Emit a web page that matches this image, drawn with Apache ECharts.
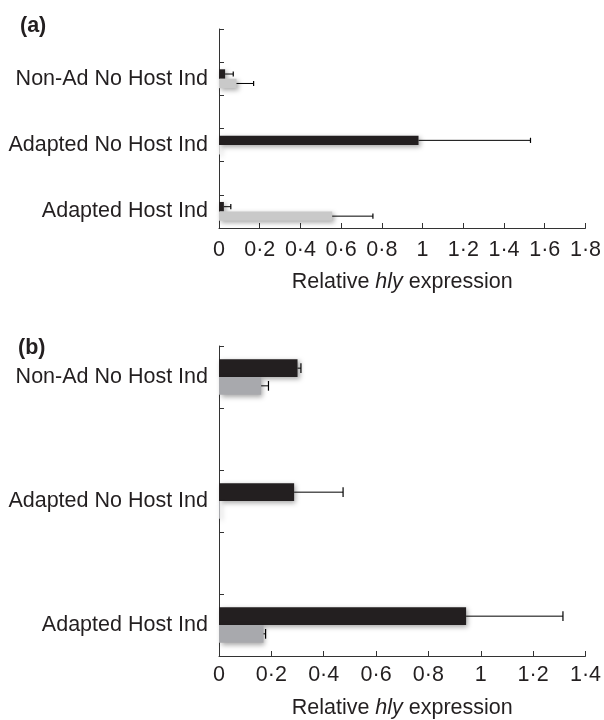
<!DOCTYPE html>
<html>
<head>
<meta charset="utf-8">
<script src="https://cdn.jsdelivr.net/npm/echarts@6/dist/echarts.min.js"></script>
<style>
html,body{margin:0;padding:0;background:#fff;}
#chart{width:604px;height:720px;}
</style>
</head>
<body>
<div id="chart"></div>
<script>
// ---- Data ----
const categories = ['Non-Ad No Host Ind', 'Adapted No Host Ind', 'Adapted Host Ind'];
// Panel (a)
const aBlack = [0.03, 0.98, 0.024];
const aBlackErr = [0.04, 0.55, 0.034];
const aGray = [0.086, 0.005, 0.556];
const aGrayErr = [0.084, 0, 0.2];
const aTicks = [0, 0.2, 0.4, 0.6, 0.8, 1, 1.2, 1.4, 1.6, 1.8];
// Panel (b)
const bBlack = [0.30, 0.287, 0.944];
const bBlackErr = [0.013, 0.187, 0.37];
const bGray = [0.161, 0.004, 0.17];
const bGrayErr = [0.028, 0, 0.008];
const bTicks = [0, 0.2, 0.4, 0.6, 0.8, 1, 1.2, 1.4];

// ---- Layout helpers ----
const aSlots = [-1, 0, -1, 1, -1, 2];
const bSlots = [0, -1, 1, -1, 2];
function axisCats(slots) { return slots.map(s => s < 0 ? '' : categories[s]); }
function pad(slots, arr) { return slots.map(s => s < 0 ? null : arr[s]); }
function errData(slots, vals, errs) {
  const out = [];
  slots.forEach((s, i) => { if (s >= 0 && errs[s] > 0) out.push([i, vals[s], vals[s] + errs[s]]); });
  return out;
}

const FONT = "'Liberation Sans', Arial, Helvetica, sans-serif";
const FS = 21.5;
const TXT = '#231f20';
const BLACK = '#231f20';
const GAP = 0.43;

function makeErr(gridIdx, slots, vals, errs, side) {
  return {
    type: 'custom',
    xAxisIndex: gridIdx, yAxisIndex: gridIdx,
    data: errData(slots, vals, errs),
    encode: { x: [1, 2], y: 0 },
    z: 5,
    silent: true,
    renderItem: function (params, api) {
      const band = api.size([0, 1])[1];
      const bw = band * (1 - GAP) / 2;
      const p0 = api.coord([api.value(1), api.value(0)]);
      const p1 = api.coord([api.value(2), api.value(0)]);
      const y = p0[1] + side * bw / 2;
      const cap = Math.max(5, bw * 0.55);
      return {
        type: 'group',
        children: [
          { type: 'line', shape: { x1: p0[0], y1: y, x2: p1[0], y2: y }, style: { stroke: '#000', lineWidth: 1 } },
          { type: 'line', shape: { x1: p1[0], y1: y - cap / 2, x2: p1[0], y2: y + cap / 2 }, style: { stroke: '#000', lineWidth: 1.2 } }
        ]
      };
    }
  };
}

function barSeries(gridIdx, data, color) {
  return {
    type: 'bar',
    xAxisIndex: gridIdx, yAxisIndex: gridIdx,
    data: data,
    barGap: '0%',
    barCategoryGap: (GAP * 100) + '%',
    itemStyle: {
      color: color,
      shadowBlur: 5, shadowOffsetX: 2, shadowOffsetY: 2, shadowColor: 'rgba(0,0,0,0.35)'
    },
    silent: true
  };
}

function xAxis(gridIdx, ticks, margin, nameGap) {
  return {
    type: 'value', gridIndex: gridIdx,
    min: ticks[0], max: ticks[ticks.length - 1], interval: 0.2,
    axisLine: { show: true, lineStyle: { color: '#333', width: 1 } },
    axisTick: { show: true, inside: true, length: 5, lineStyle: { color: '#333' } },
    splitLine: { show: false },
    axisLabel: {
      margin: margin, color: TXT, fontSize: FS, fontFamily: FONT,
      formatter: v => String(Math.round(v * 10) / 10).replace('.', '\u00b7')
    },
    name: '{n|Relative }{i|hly}{n| expression}',
    nameLocation: 'middle', nameGap: nameGap,
    nameTextStyle: {
      rich: {
        n: { fontSize: FS, fontFamily: FONT, color: TXT },
        i: { fontSize: FS, fontFamily: FONT, color: TXT, fontStyle: 'italic' }
      }
    }
  };
}

function yAxis(gridIdx, slots) {
  return {
    type: 'category', gridIndex: gridIdx, inverse: true,
    data: axisCats(slots),
    axisLine: { show: true, lineStyle: { color: '#333', width: 1 } },
    axisTick: { show: true, inside: true, length: 5, lineStyle: { color: '#333' } },
    axisLabel: { margin: 11, color: TXT, fontSize: FS, fontFamily: FONT, interval: 0 },
    splitLine: { show: false }
  };
}

const chart = echarts.init(document.getElementById('chart'), null, { renderer: 'canvas' });
chart.setOption({
  animation: false,
  backgroundColor: '#fff',
  title: [
    { text: '(a)', left: 15, top: 10, textStyle: { fontSize: FS, fontWeight: 'bold', fontFamily: FONT, color: TXT } },
    { text: '(b)', left: 13, top: 332, textStyle: { fontSize: FS, fontWeight: 'bold', fontFamily: FONT, color: TXT } }
  ],
  grid: [
    { left: 219, top: 29, width: 370, height: 199 },
    { left: 219, top: 346, width: 370, height: 314 }
  ],
  xAxis: [xAxis(0, aTicks, 11, 43), xAxis(1, bTicks, 8, 41)],
  yAxis: [yAxis(0, aSlots), yAxis(1, bSlots)],
  series: [
    barSeries(0, pad(aSlots, aBlack), BLACK),
    barSeries(0, pad(aSlots, aGray), '#c9c9c9'),
    makeErr(0, aSlots, aBlack, aBlackErr, -1),
    makeErr(0, aSlots, aGray, aGrayErr, 1),
    barSeries(1, pad(bSlots, bBlack), BLACK),
    barSeries(1, pad(bSlots, bGray), '#a8a9ad'),
    makeErr(1, bSlots, bBlack, bBlackErr, -1),
    makeErr(1, bSlots, bGray, bGrayErr, 1)
  ]
});
</script>
</body>
</html>
